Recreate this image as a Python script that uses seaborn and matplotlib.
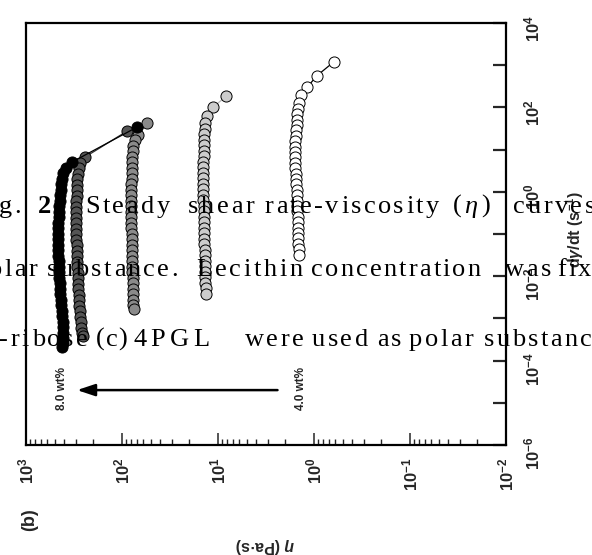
import matplotlib
matplotlib.use("Agg")
import matplotlib.pyplot as plt
import numpy as np
import pandas as pd
import seaborn as sns
from matplotlib.font_manager import FontProperties
from matplotlib.transforms import IdentityTransform
from matplotlib.ticker import LogLocator, FuncFormatter, NullFormatter, NullLocator

# Viscosity (Pa·s) and shear rate (1/s) for each polar-substance concentration
eta_40 = [0.624, 0.940, 1.17, 1.35, 1.45, 1.48, 1.50, 1.52, 1.52, 1.54, 1.54, 1.56, 1.56,
          1.56, 1.56, 1.56, 1.56, 1.54, 1.54, 1.54, 1.52, 1.52, 1.52, 1.50, 1.50, 1.48,
          1.48, 1.48, 1.47, 1.47, 1.47, 1.45, 1.45]
rate_40 = [1191, 555, 304, 197, 127, 91.6, 69.8, 50.3, 38.3, 29.1, 21.0, 16.0, 11.5, 8.77,
           6.68, 4.81, 3.66, 2.64, 2.01, 1.53, 1.10, 0.839, 0.605, 0.461, 0.351, 0.253,
           0.192, 0.139, 0.106, 0.0804, 0.0579, 0.0441, 0.0318]

eta_50 = [8.17, 11.2, 12.9, 13.5, 13.7, 13.9, 13.9, 14.0, 14.0, 14.0, 14.2, 14.2, 14.2,
          14.2, 14.2, 14.2, 14.2, 14.2, 14.0, 14.0, 14.0, 14.0, 13.9, 13.9, 13.9, 13.9,
          13.7, 13.7, 13.7, 13.5, 13.5, 13.5, 13.5, 13.4, 13.4]
rate_50 = [186, 102, 62.5, 42.7, 30.8, 23.4, 16.9, 12.8, 9.27, 7.05, 5.08, 3.87, 2.79,
           2.12, 1.53, 1.16, 0.839, 0.640, 0.461, 0.351, 0.253, 0.192, 0.139, 0.106,
           0.0762, 0.0579, 0.0418, 0.0318, 0.0229, 0.0175, 0.0126, 0.00958, 0.00690,
           0.00525, 0.00379]

eta_60 = [54.6, 67.7, 72.8, 76.4, 77.3, 78.3, 78.3, 79.2, 79.2, 79.2, 80.2, 80.2, 80.2,
          80.2, 80.2, 80.2, 80.2, 80.2, 80.2, 79.2, 79.2, 79.2, 79.2, 78.3, 78.3, 78.3,
          78.3, 77.3, 77.3, 77.3, 76.4, 76.4, 76.4, 75.5]
rate_60 = [42.7, 22.2, 16.9, 12.2, 9.27, 6.68, 5.08, 3.66, 2.79, 2.01, 1.53, 1.10, 0.839,
           0.605, 0.461, 0.332, 0.253, 0.182, 0.139, 0.100, 0.0762, 0.0548, 0.0418,
           0.0301, 0.0229, 0.0165, 0.0126, 0.00906, 0.00690, 0.00498, 0.00379, 0.00273,
           0.00208, 0.00167]

eta_70 = [88.3, 242, 273, 283, 290, 294, 294, 297, 297, 301, 301, 301, 301, 301, 301, 301,
          301, 297, 297, 297, 294, 294, 290, 290, 287, 287, 283, 280, 280, 276, 273, 270,
          267, 260, 254]
rate_70 = [27.6, 6.68, 4.81, 3.66, 2.64, 2.01, 1.45, 1.10, 0.795, 0.605, 0.437, 0.332,
           0.239, 0.182, 0.131, 0.100, 0.0721, 0.0548, 0.0395, 0.0301, 0.0217, 0.0165,
           0.0119, 0.00906, 0.00653, 0.00498, 0.00359, 0.00273, 0.00197, 0.00150,
           0.00108, 0.000822, 0.000593, 0.000451, 0.000383]

eta_80 = [69.4, 331, 382, 411, 421, 431, 431, 442, 447, 453, 458, 458, 463, 463, 463, 463,
          463, 463, 463, 458, 458, 453, 453, 447, 442, 442, 436, 431, 426, 421, 416, 411,
          411, 411, 416, 421]
rate_80 = [34.3, 5.08, 3.66, 2.79, 2.01, 1.53, 1.10, 0.839, 0.605, 0.461, 0.332, 0.253,
           0.182, 0.139, 0.100, 0.0762, 0.0548, 0.0418, 0.0301, 0.0229, 0.0165, 0.0126,
           0.00906, 0.00690, 0.00498, 0.00379, 0.00273, 0.00208, 0.00150, 0.00114,
           0.000822, 0.000625, 0.000451, 0.000344, 0.000261, 0.000210]

concentrations = ["4.0 wt%", "5.0 wt%", "6.0 wt%", "7.0 wt%", "8.0 wt%"]
eta_sets = [eta_40, eta_50, eta_60, eta_70, eta_80]
rate_sets = [rate_40, rate_50, rate_60, rate_70, rate_80]
face_colors = ["#ffffff", "#cccccc", "#8a8a8a", "#555555", "#000000"]
line_colors = ["#000000", "#bbbbbb", "#555555", "#333333", "#000000"]

x_tick_exps = [-2, -1, 0, 1, 2, 3]
y_tick_exps = [-6, -4, -2, 0, 2, 4]

frames = []
for c, e, r in zip(concentrations, eta_sets, rate_sets):
    frames.append(pd.DataFrame({"conc": c, "eta": e, "rate": r}))
df = pd.concat(frames, ignore_index=True)

sns.set_style("white")
plt.rcParams["font.family"] = ["Liberation Sans", "DejaVu Sans"]
plt.rcParams["font.weight"] = "bold"
plt.rcParams["mathtext.fontset"] = "custom"
plt.rcParams["mathtext.rm"] = "Liberation Sans:bold"
plt.rcParams["mathtext.it"] = "Liberation Sans:italic:bold"
plt.rcParams["mathtext.bf"] = "Liberation Sans:bold"

W, H = 592, 555
fig = plt.figure(figsize=(W / 100, H / 100), dpi=100)
fig.patch.set_facecolor("white")
ax = fig.add_axes([26 / W, 1 - 445 / H, (506 - 26) / W, (445 - 23) / H])
ax.set_xscale("log")
ax.set_yscale("log")

for c, fc, lc in zip(concentrations, face_colors, line_colors):
    sub = df[df["conc"] == c]
    sns.lineplot(data=sub, x="eta", y="rate", sort=False, estimator=None, ax=ax,
                 color=lc, linewidth=0.9, marker="o", markersize=8,
                 markerfacecolor=fc, markeredgecolor="#000000", markeredgewidth=0.7)

ax.set_xlim(1e3, 1e-2)
ax.set_ylim(1e-6, 1e4)
ax.set_xlabel("")
ax.set_ylabel("")

ax.xaxis.set_major_locator(LogLocator(base=10, numticks=20))
ax.xaxis.set_minor_locator(LogLocator(base=10, subs=np.arange(2, 10), numticks=20))
ax.xaxis.set_minor_formatter(NullFormatter())
ax.xaxis.set_major_formatter(FuncFormatter(
    lambda v, p: r"$10^{%d}$" % round(np.log10(v)) if round(np.log10(v)) in x_tick_exps else ""))

ax.yaxis.tick_right()
ax.yaxis.set_major_locator(LogLocator(base=10, numticks=20))
ax.yaxis.set_minor_locator(NullLocator())
ax.yaxis.set_major_formatter(FuncFormatter(
    lambda v, p: r"$10^{%d}$" % round(np.log10(v)) if round(np.log10(v)) in y_tick_exps else ""))

ax.tick_params(axis="x", which="major", direction="in", length=8.5, width=1.1, pad=9,
               labelsize=12, labelrotation=90, top=False, bottom=True)
ax.tick_params(axis="x", which="minor", direction="in", length=4.5, width=1.0,
               top=False, bottom=True)
ax.tick_params(axis="y", which="major", direction="in", length=9.5, width=1.6, pad=12,
               labelsize=12, labelrotation=90, right=True, left=False)
for s in ax.spines.values():
    s.set_visible(True)
    s.set_linewidth(1.6)
    s.set_color("black")

# concentration arrow
ax.annotate("", xy=(294, 2.0e-5), xytext=(2.4, 2.0e-5),
            arrowprops=dict(arrowstyle="-|>,head_length=0.6,head_width=0.2",
                            mutation_scale=18, color="black", lw=1.8,
                            shrinkA=0, shrinkB=0))
ax.text(421, 2.2e-5, "8.0 wt%", rotation=90, ha="center", va="center", fontsize=8.5)
ax.text(1.38, 2.2e-5, "4.0 wt%", rotation=90, ha="center", va="center", fontsize=8.5)

fig.text(575 / W, 1 - 230 / H, r"d$\gamma$/dt (s$^{-1}$)", rotation=90,
         ha="center", va="center", fontsize=11.5)
fig.text(265 / W, 1 - 545 / H, r"$\eta$ (Pa·s)", rotation=180,
         ha="center", va="center", fontsize=11.5)
fig.text(30 / W, 1 - 520 / H, "(b)", rotation=90, ha="center", va="center", fontsize=13)

# caption lines, drawn letter by letter with extra tracking
renderer = fig.canvas.get_renderer()
cap_size = 19
props = {
    "r": FontProperties(family="Liberation Serif", size=cap_size, weight="normal"),
    "b": FontProperties(family="Liberation Serif", size=cap_size, weight="bold"),
    "i": FontProperties(family="Liberation Serif", size=cap_size, weight="normal", style="italic"),
}


def draw_word(word, x, baseline, style="r", track=2.6):
    prop = props[style]
    for ch in word:
        fig.text(x, H - baseline, ch, transform=IdentityTransform(), fontproperties=prop,
                 ha="left", va="baseline", color="black", zorder=6)
        w, _, _ = renderer.get_text_width_height_descent(ch, prop, ismath=False)
        x += w + track


caption = [
    (213, [("g.", -1, "r", 2.6), ("2", 38, "b", 2.6), ("Steady", 85, "r", 2.6),
           ("shear", 188, "r", 2.6), ("rate-viscosity", 265, "r", 2.4), ("(", 453, "r", 2.6),
           ("η", 464, "i", 2.6), (")", 481, "r", 2.6), ("curves", 513, "r", 2.6)]),
    (276, [("polar", -26, "r", 2.2), ("substance.", 47, "r", 2.4), ("Lecithin", 196, "r", 2.6),
           ("concentration", 311, "r", 2.2), ("was", 505, "r", 2.4), ("fixed", 557, "r", 2.4)]),
    (346, [("D-ribose", -22, "r", 2.4), ("(c)", 96, "r", 0.8), ("4PGL", 133, "r", 4.5),
           ("were", 245, "r", 2.4), ("used", 312, "r", 2.4), ("as", 377, "r", 2.4),
           ("polar", 409, "r", 2.4), ("substance", 484, "r", 2.4)]),
]
for baseline, words in caption:
    for word, x, style, tr in words:
        draw_word(word, x, baseline, style, tr)

fig.savefig("out.png", dpi=100)
